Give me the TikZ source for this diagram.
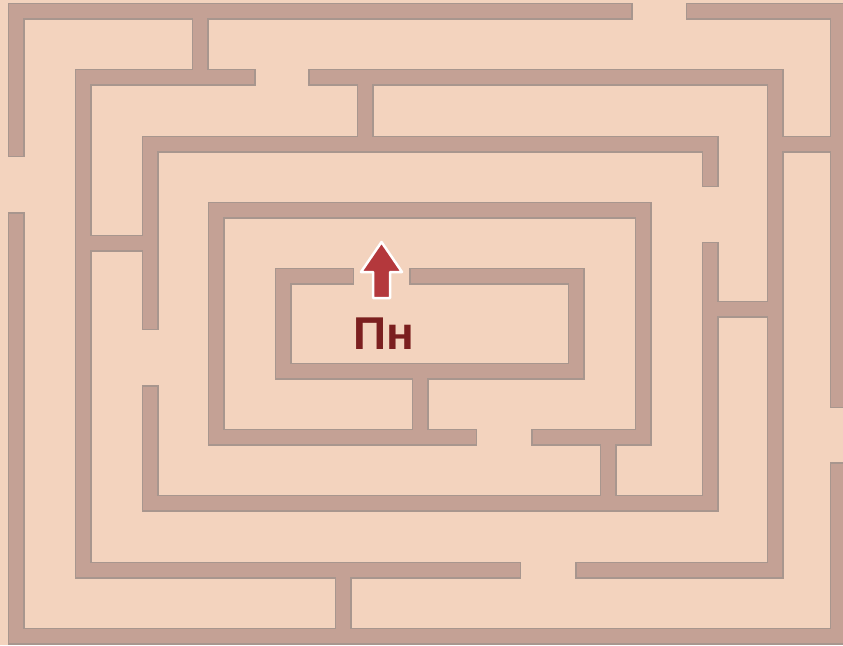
\documentclass[tikz,border=0pt]{standalone}
\usepackage{fontspec}
\usepackage{tikz}
\usetikzlibrary{positioning}
\newfontfamily\dayfont{Liberation Sans}
\definecolor{mazebg}{RGB}{243,211,190}
\definecolor{wallrim}{RGB}{168,150,142}
\definecolor{wallfill}{RGB}{196,161,149}
\definecolor{arrowred}{RGB}{180,56,60}
\definecolor{dayred}{RGB}{123,31,31}

% wall centre lines, pixel units, y downwards
\def\mazewalls{
  (624,11) -- (16,11) -- (16,148.5)
  (694,11) -- (838,11) -- (838,399.5)
  (838,470.5) -- (838,636) -- (16,636) -- (16,220.5)
  (200,11) -- (200,77)
  (247,77) -- (83,77) -- (83,570) -- (512.5,570)
  (83,243) -- (150,243)
  (316.5,77) -- (775,77) -- (775,570) -- (583.5,570)
  (365,77) -- (365,144)
  (775,144) -- (838,144)
  (150,321.5) -- (150,144) -- (710,144) -- (710,178.5)
  (150,393.5) -- (150,503) -- (710,503) -- (710,250)
  (710,309) -- (775,309)
  (468.5,437) -- (216,437) -- (216,210) -- (643,210) -- (643,437) -- (539.5,437)
  (608,437) -- (608,503)
  (345.5,276) -- (283,276) -- (283,371) -- (576,371) -- (576,276) -- (417.5,276)
  (420,371) -- (420,437)
  (343,570) -- (343,636)
}

\begin{document}
\begin{tikzpicture}[x=1pt,y=-1pt,
  wall/.style={line cap=rect,line join=miter}]
\fill[mazebg] (0,0) rectangle (843,645);
\useasboundingbox (0,0) rectangle (843,645);
% rim first, then the fill on top
\draw[wall,wallrim,line width=17pt] \mazewalls;
\draw[wall,wallfill,line width=14pt] \mazewalls;
\node[font=\dayfont\bfseries\fontsize{46}{46}\selectfont,text=dayred,inner sep=0pt] (dayname) at (384,334) {Пн};
\fill[arrowred,draw=white,line width=2.5pt,line join=round] (373,298) -- (373,272) -- (361,272) -- (381.5,242) -- (402,272) -- (390,272) -- (390,298) -- cycle;
\end{tikzpicture}
\end{document}
